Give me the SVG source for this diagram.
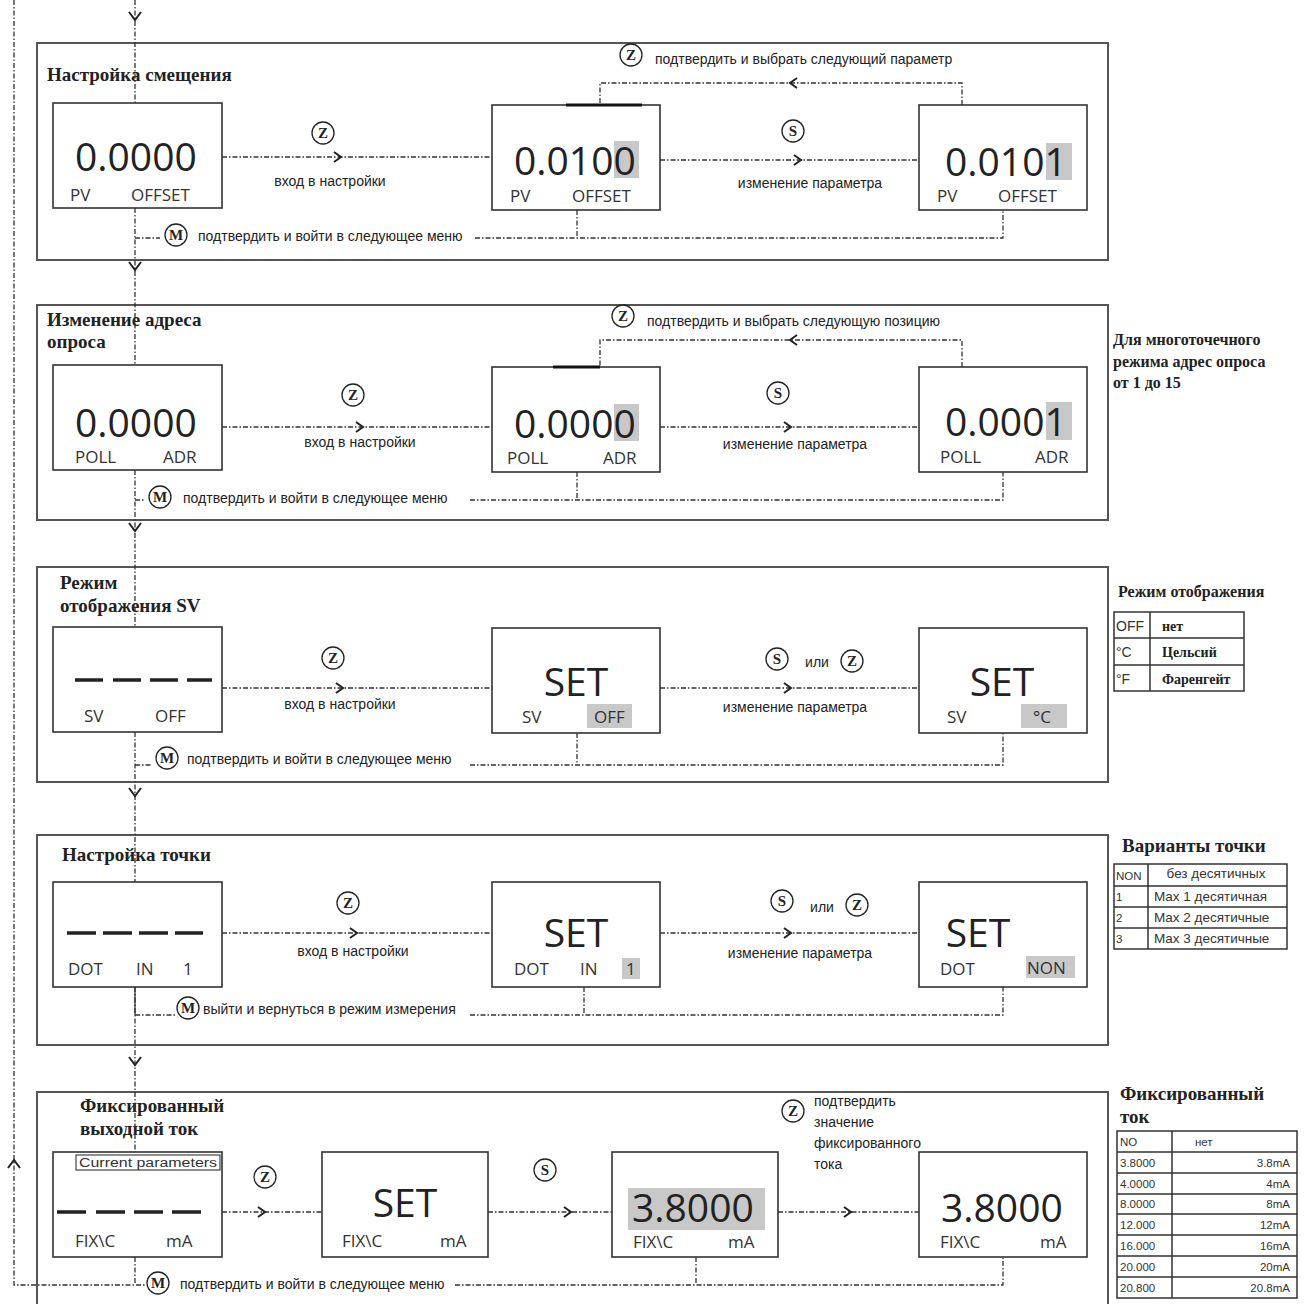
<svg xmlns="http://www.w3.org/2000/svg" width="1309" height="1304" viewBox="0 0 1309 1304">
<defs>
<style>
.frame{fill:none;stroke:#555;stroke-width:2}
.box{fill:#fff;stroke:#333;stroke-width:1.6}
.dl{fill:none;stroke:#333;stroke-width:1.3;stroke-dasharray:5 2 1.5 2}
.chev{fill:none;stroke:#222;stroke-width:2}
.title{font-family:"Liberation Serif",serif;font-weight:bold;font-size:19px;fill:#222}
.big{font-family:"Open Sans",sans-serif;font-size:39px;fill:#222}
.lbl{font-family:"Open Sans",sans-serif;font-size:17px;fill:#333}
.sm{font-family:"Liberation Sans",sans-serif;font-size:14px;fill:#222}
.note{font-family:"Liberation Serif",serif;font-weight:bold;font-size:16px;fill:#222}
.btn circle{fill:#fff;stroke:#222;stroke-width:1.3}
.btn text{font-family:"Liberation Serif",serif;font-weight:bold;font-size:15px;fill:#222;text-anchor:middle}
.hl{fill:#c8c8c8}
.tb{fill:none;stroke:#333;stroke-width:1.5}
.tl{font-family:"Liberation Sans",sans-serif;font-size:11.5px;fill:#333}
.tl14{font-family:"Liberation Sans",sans-serif;font-size:14px;fill:#333}
.tr{font-family:"Liberation Sans",sans-serif;font-size:13.5px;fill:#333}
.tn{font-family:"Liberation Serif",serif;font-weight:bold;font-size:14px;fill:#222}
.bar{stroke:#111;stroke-width:3}
.dash{stroke:#222;stroke-width:3.5}
</style>
</defs>
<rect width="1309" height="1304" fill="#fff"/>

<!-- section frames -->
<g id="section1"><rect class="frame" x="37" y="43" width="1071" height="217"/><text class="title" x="47" y="81">Настройка смещения</text></g>
<g id="section2"><rect class="frame" x="37" y="305" width="1071" height="215"/><text class="title" x="47" y="326">Изменение адреса</text><text class="title" x="47" y="348">опроса</text></g>
<g id="section3"><rect class="frame" x="37" y="567" width="1071" height="215"/><text class="title" x="60" y="589">Режим</text><text class="title" x="60" y="612">отображения SV</text></g>
<g id="section4"><rect class="frame" x="37" y="835" width="1071" height="210"/><text class="title" x="62" y="861">Настройка точки</text></g>
<g id="section5"><rect class="frame" x="37" y="1092" width="1071" height="230"/><text class="title" x="80" y="1112">Фиксированный</text><text class="title" x="80" y="1135">выходной ток</text></g>

<!-- connectors -->
<g id="connectors">
<path class="dl" d="M14 0V1285H145"/>
<path class="chev" d="M8 1168L14 1160L20 1168"/>
<path class="dl" d="M135 0V103M135 208V365M135 470V627M135 732V882M135 987V1152M135 1257V1285"/>
<path class="chev" d="M129 12L135 20L141 12M129 262L135 270L141 262M129 523L135 531L141 523M129 788L135 796L141 788M129 1057L135 1065L141 1057"/>
<!-- section 1 -->
<path class="dl" d="M222 157H492M660 160H919"/>
<path class="chev" d="M334 152L341 157L334 162M794 155L801 160L794 165"/>
<path class="dl" d="M962 105V83H600V105"/>
<path class="chev" d="M797 78L790 83L797 88"/>
<path class="dl" d="M135 238H160M475 238H1003V210M577 210V238"/>
<!-- section 2 -->
<path class="dl" d="M222 427H492M660 427H919"/>
<path class="chev" d="M356 422L363 427L356 432M784 422L791 427L784 432"/>
<path class="dl" d="M962 367V340H600V367"/>
<path class="chev" d="M797 335L790 340L797 345"/>
<path class="dl" d="M135 500H145M470 500H1003V472M577 472V500"/>
<!-- section 3 -->
<path class="dl" d="M222 688H492M660 688H919"/>
<path class="chev" d="M336 683L343 688L336 693M784 683L791 688L784 693"/>
<path class="dl" d="M135 765H152M470 765H1003V733M577 733V765"/>
<!-- section 4 -->
<path class="dl" d="M222 933H492M660 933H919"/>
<path class="chev" d="M350 928L357 933L350 938M784 928L791 933L784 938"/>
<path d="M135 987V1015" stroke="#333" stroke-width="1.3"/>
<path class="dl" d="M135 1015H175M470 1015H1003V987M584 987V1015"/>
<!-- section 5 -->
<path class="dl" d="M222 1212H322M488 1212H612M778 1212H919"/>
<path class="chev" d="M258 1207L265 1212L258 1217M564 1207L571 1212L564 1217M844 1207L851 1212L844 1217"/>
<path class="dl" d="M455 1285H1003V1257M696 1257V1285"/>
</g>

<!-- section 1 nodes -->
<g id="s1-box1"><rect class="box" x="53" y="103" width="169" height="105"/><text class="big" x="75" y="171">0.0000</text><text class="lbl" x="70" y="201">PV</text><text class="lbl" x="131" y="201">OFFSET</text></g>
<g id="s1-box2"><rect class="box" x="492" y="105" width="168" height="105"/><line class="bar" x1="566" y1="105" x2="642" y2="105"/><rect class="hl" x="614" y="141" width="25" height="37"/><text class="big" x="514" y="175">0.0100</text><text class="lbl" x="510" y="202">PV</text><text class="lbl" x="572" y="202">OFFSET</text></g>
<g id="s1-box3"><rect class="box" x="919" y="105" width="168" height="105"/><rect class="hl" x="1046" y="143" width="26" height="37"/><text class="big" x="945" y="176">0.0101</text><text class="lbl" x="937" y="202">PV</text><text class="lbl" x="998" y="202">OFFSET</text></g>
<g id="s1-z1" class="btn"><circle cx="323" cy="133" r="11"/><text x="323" y="138">Z</text></g>
<text class="sm" x="330" y="186" text-anchor="middle">вход в настройки</text>
<g id="s1-s" class="btn"><circle cx="793" cy="131" r="11"/><text x="793" y="136">S</text></g>
<text class="sm" x="810" y="188" text-anchor="middle">изменение параметра</text>
<g id="s1-z2" class="btn"><circle cx="631" cy="55" r="11"/><text x="631" y="60">Z</text></g>
<text class="sm" x="655" y="64">подтвердить и выбрать следующий параметр</text>
<g id="s1-m" class="btn"><circle cx="176" cy="235" r="11"/><text x="176" y="240">M</text></g>
<text class="sm" x="198" y="241">подтвердить и войти в следующее меню</text>

<!-- section 2 nodes -->
<g id="s2-box1"><rect class="box" x="53" y="365" width="169" height="105"/><text class="big" x="75" y="437">0.0000</text><text class="lbl" x="75" y="463">POLL</text><text class="lbl" x="163" y="463">ADR</text></g>
<g id="s2-box2"><rect class="box" x="492" y="367" width="168" height="105"/><line class="bar" x1="553" y1="367" x2="600" y2="367"/><rect class="hl" x="614" y="404" width="25" height="37"/><text class="big" x="514" y="438">0.0000</text><text class="lbl" x="507" y="464">POLL</text><text class="lbl" x="603" y="464">ADR</text></g>
<g id="s2-box3"><rect class="box" x="919" y="367" width="168" height="105"/><rect class="hl" x="1046" y="402" width="26" height="38"/><text class="big" x="945" y="436">0.0001</text><text class="lbl" x="940" y="463">POLL</text><text class="lbl" x="1035" y="463">ADR</text></g>
<g id="s2-z1" class="btn"><circle cx="353" cy="395" r="11"/><text x="353" y="400">Z</text></g>
<text class="sm" x="360" y="447" text-anchor="middle">вход в настройки</text>
<g id="s2-s" class="btn"><circle cx="778" cy="393" r="11"/><text x="778" y="398">S</text></g>
<text class="sm" x="795" y="449" text-anchor="middle">изменение параметра</text>
<g id="s2-z2" class="btn"><circle cx="623" cy="316" r="11"/><text x="623" y="321">Z</text></g>
<text class="sm" x="647" y="326">подтвердить и выбрать следующую позицию</text>
<g id="s2-m" class="btn"><circle cx="160" cy="497" r="11"/><text x="160" y="502">M</text></g>
<text class="sm" x="183" y="503">подтвердить и войти в следующее меню</text>
<g id="s2-note"><text class="note" x="1113" y="345">Для многоточечного</text><text class="note" x="1113" y="367">режима адрес опроса</text><text class="note" x="1113" y="388">от 1 до 15</text></g>

<!-- section 3 nodes -->
<g id="s3-box1"><rect class="box" x="53" y="627" width="169" height="105"/><path class="dash" d="M75 680H103M113 680H141M150 680H178M187 680H212"/><text class="lbl" x="84" y="722">SV</text><text class="lbl" x="155" y="722">OFF</text></g>
<g id="s3-box2"><rect class="box" x="492" y="628" width="168" height="105"/><text class="big" x="576" y="696" text-anchor="middle">SET</text><text class="lbl" x="522" y="723">SV</text><rect class="hl" x="587" y="704" width="45" height="24"/><text class="lbl" x="594" y="723">OFF</text></g>
<g id="s3-box3"><rect class="box" x="919" y="628" width="168" height="105"/><text class="big" x="1002" y="696" text-anchor="middle">SET</text><text class="lbl" x="947" y="723">SV</text><rect class="hl" x="1021" y="704" width="46" height="24"/><text class="lbl" x="1033" y="723">°C</text></g>
<g id="s3-z1" class="btn"><circle cx="333" cy="658" r="11"/><text x="333" y="663">Z</text></g>
<text class="sm" x="340" y="709" text-anchor="middle">вход в настройки</text>
<g id="s3-s" class="btn"><circle cx="777" cy="659" r="11"/><text x="777" y="664">S</text></g>
<text class="sm" x="817" y="667" text-anchor="middle">или</text>
<g id="s3-z2" class="btn"><circle cx="852" cy="661" r="11"/><text x="852" y="666">Z</text></g>
<text class="sm" x="795" y="712" text-anchor="middle">изменение параметра</text>
<g id="s3-m" class="btn"><circle cx="167" cy="758" r="11"/><text x="167" y="763">M</text></g>
<text class="sm" x="187" y="764">подтвердить и войти в следующее меню</text>
<g id="s3-table"><text class="note" x="1118" y="597">Режим отображения</text><rect class="tb" x="1114" y="612" width="130" height="79"/><path class="tb" d="M1114 638H1244M1114 665H1244M1150 612V691"/><text class="tl14" x="1116" y="631">OFF</text><text class="tl14" x="1116" y="657">°C</text><text class="tl14" x="1116" y="684">°F</text><text class="tn" x="1162" y="631">нет</text><text class="tn" x="1162" y="657">Цельсий</text><text class="tn" x="1162" y="684">Фаренгейт</text></g>

<!-- section 4 nodes -->
<g id="s4-box1"><rect class="box" x="53" y="882" width="169" height="105"/><path class="dash" d="M67 933H96M103 933H132M139 933H168M175 933H203"/><text class="lbl" x="68" y="975">DOT</text><text class="lbl" x="136" y="975">IN</text><text class="lbl" x="183" y="975">1</text></g>
<g id="s4-box2"><rect class="box" x="492" y="882" width="168" height="105"/><text class="big" x="576" y="947" text-anchor="middle">SET</text><text class="lbl" x="514" y="975">DOT</text><text class="lbl" x="580" y="975">IN</text><rect class="hl" x="622" y="958" width="18" height="21"/><text class="lbl" x="626" y="975">1</text></g>
<g id="s4-box3"><rect class="box" x="919" y="882" width="168" height="105"/><text class="big" x="978" y="947" text-anchor="middle">SET</text><text class="lbl" x="940" y="975">DOT</text><rect class="hl" x="1026" y="956" width="49" height="22"/><text class="lbl" x="1027" y="974">NON</text></g>
<g id="s4-z1" class="btn"><circle cx="348" cy="903" r="11"/><text x="348" y="908">Z</text></g>
<text class="sm" x="353" y="956" text-anchor="middle">вход в настройки</text>
<g id="s4-s" class="btn"><circle cx="782" cy="901" r="11"/><text x="782" y="906">S</text></g>
<text class="sm" x="822" y="912" text-anchor="middle">или</text>
<g id="s4-z2" class="btn"><circle cx="857" cy="905" r="11"/><text x="857" y="910">Z</text></g>
<text class="sm" x="800" y="958" text-anchor="middle">изменение параметра</text>
<g id="s4-m" class="btn"><circle cx="188" cy="1008" r="11"/><text x="188" y="1013">M</text></g>
<text class="sm" x="203" y="1014">выйти и вернуться в режим измерения</text>
<g id="s4-table"><text class="title" x="1122" y="852">Варианты точки</text><rect class="tb" x="1114" y="864" width="173" height="85"/><path class="tb" d="M1114 886H1287M1114 907H1287M1114 928H1287M1148 864V949"/><text class="tl" x="1116" y="880">NON</text><text class="tl" x="1116" y="901">1</text><text class="tl" x="1116" y="922">2</text><text class="tl" x="1116" y="943">3</text><text class="tr" x="1216" y="878" text-anchor="middle">без десятичных</text><text class="tr" x="1154" y="901">Max 1 десятичная</text><text class="tr" x="1154" y="922">Max 2 десятичные</text><text class="tr" x="1154" y="943">Max 3 десятичные</text></g>

<!-- section 5 nodes -->
<g id="s5-box1"><rect class="box" x="53" y="1152" width="169" height="105"/><rect fill="none" stroke="#444" stroke-width="1.2" x="76" y="1155" width="144" height="15"/><text class="tl" x="79" y="1167" style="font-size:12.5px" textLength="138" lengthAdjust="spacingAndGlyphs">Current parameters</text><path class="dash" d="M57 1212H86M96 1212H125M134 1212H163M172 1212H201"/><text class="lbl" x="75" y="1247">FIX\C</text><text class="lbl" x="166" y="1247">mA</text></g>
<g id="s5-box2"><rect class="box" x="322" y="1152" width="166" height="105"/><text class="big" x="405" y="1217" text-anchor="middle">SET</text><text class="lbl" x="342" y="1247">FIX\C</text><text class="lbl" x="440" y="1247">mA</text></g>
<g id="s5-box3"><rect class="box" x="612" y="1152" width="166" height="105"/><rect class="hl" x="628" y="1188" width="137" height="42"/><text class="big" x="632" y="1222">3.8000</text><text class="lbl" x="633" y="1248">FIX\C</text><text class="lbl" x="728" y="1248">mA</text></g>
<g id="s5-box4"><rect class="box" x="919" y="1152" width="168" height="105"/><text class="big" x="941" y="1222">3.8000</text><text class="lbl" x="940" y="1248">FIX\C</text><text class="lbl" x="1040" y="1248">mA</text></g>
<g id="s5-z1" class="btn"><circle cx="265" cy="1177" r="11"/><text x="265" y="1182">Z</text></g>
<g id="s5-s" class="btn"><circle cx="545" cy="1170" r="11"/><text x="545" y="1175">S</text></g>
<g id="s5-z2" class="btn"><circle cx="793" cy="1111" r="11"/><text x="793" y="1116">Z</text></g>
<g id="s5-z2-label"><text class="sm" x="814" y="1106">подтвердить</text><text class="sm" x="814" y="1127">значение</text><text class="sm" x="814" y="1148">фиксированного</text><text class="sm" x="814" y="1169">тока</text></g>
<g id="s5-m" class="btn"><circle cx="158" cy="1283" r="11"/><text x="158" y="1288">M</text></g>
<text class="sm" x="180" y="1289">подтвердить и войти в следующее меню</text>
<g id="s5-table"><text class="title" x="1120" y="1100">Фиксированный</text><text class="title" x="1120" y="1123">ток</text><rect class="tb" x="1117" y="1131" width="180" height="167"/><path class="tb" d="M1117 1152H1297M1117 1173H1297M1117 1194H1297M1117 1214H1297M1117 1235H1297M1117 1256H1297M1117 1277H1297M1172 1131V1298"/>
<text class="tl" x="1120" y="1146">NO</text><text class="tl" x="1120" y="1167">3.8000</text><text class="tl" x="1120" y="1188">4.0000</text><text class="tl" x="1120" y="1208">8.0000</text><text class="tl" x="1120" y="1229">12.000</text><text class="tl" x="1120" y="1250">16.000</text><text class="tl" x="1120" y="1271">20.000</text><text class="tl" x="1120" y="1292">20.800</text>
<text class="tl" x="1195" y="1146">нет</text><text class="tl" x="1290" y="1167" text-anchor="end">3.8mA</text><text class="tl" x="1290" y="1188" text-anchor="end">4mA</text><text class="tl" x="1290" y="1208" text-anchor="end">8mA</text><text class="tl" x="1290" y="1229" text-anchor="end">12mA</text><text class="tl" x="1290" y="1250" text-anchor="end">16mA</text><text class="tl" x="1290" y="1271" text-anchor="end">20mA</text><text class="tl" x="1290" y="1292" text-anchor="end">20.8mA</text></g>
</svg>
